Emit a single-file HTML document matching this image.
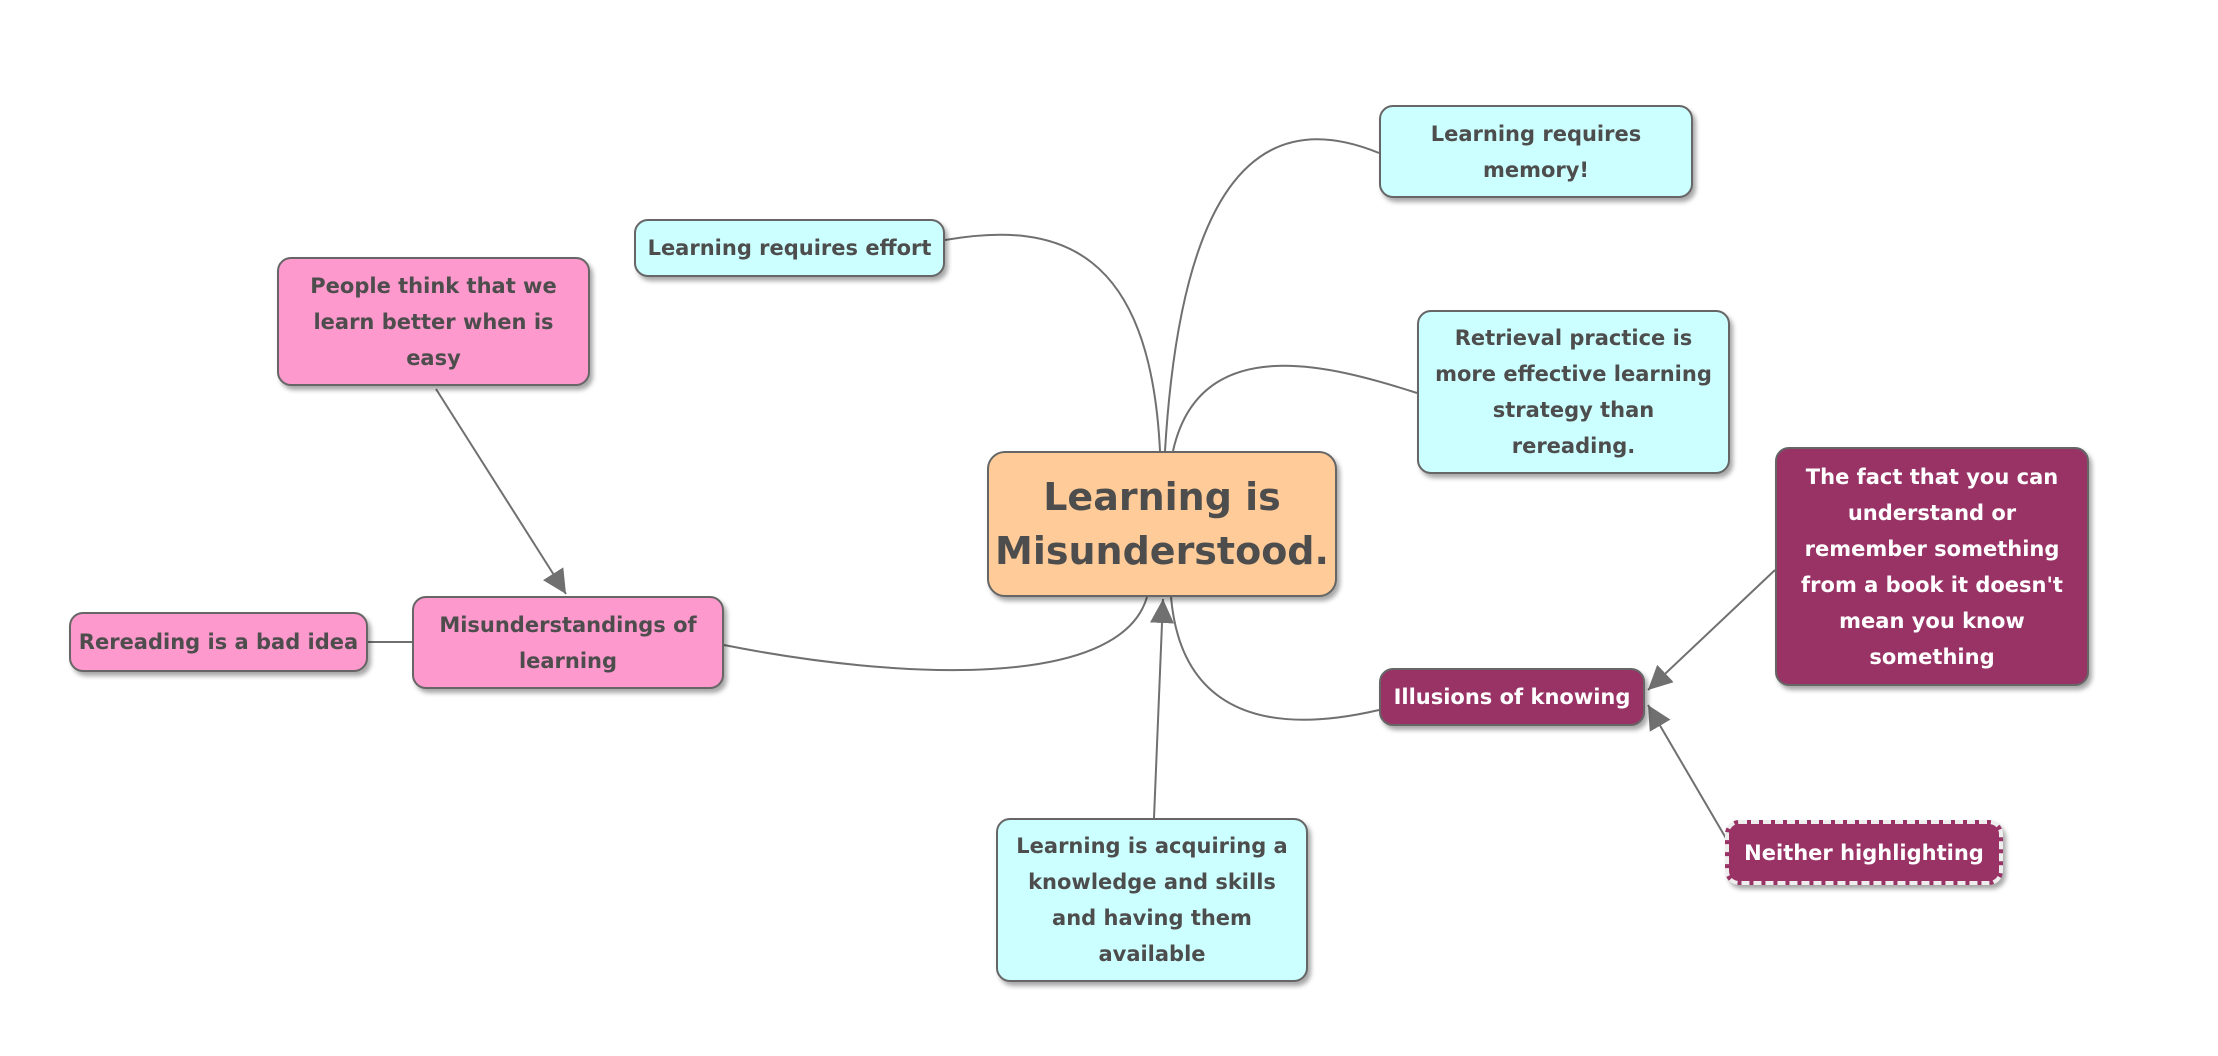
<!DOCTYPE html>
<html><head><meta charset="utf-8"><style>
body{margin:0;width:2218px;height:1056px;background:#fff;position:relative;overflow:hidden;font-family:"DejaVu Sans","Liberation Sans",sans-serif;}
.n{position:absolute;box-sizing:border-box;border:2px solid #666;border-radius:14px;display:flex;align-items:center;justify-content:center;text-align:center;font-weight:bold;font-size:21px;line-height:36px;color:#4d4d4d;box-shadow:3px 4px 5px rgba(0,0,0,0.35);}
.c{background:#ccffff}.p{background:#fd99cc}.m{background:#993366;color:#fff}
svg{position:absolute;left:0;top:0}
</style></head><body>
<svg width="2218" height="1056">
<defs>
<marker id="b" markerWidth="24" markerHeight="24" refX="24" refY="12" orient="auto" markerUnits="userSpaceOnUse" viewBox="0 0 24 24"><path d="M0,0 L24,12 L0,24z" fill="#707070"/></marker></defs>
<g fill="none" stroke="#707070" stroke-width="2">
<path d="M945,240 C1060,220 1150,250 1160,451"/>
<path d="M1379,153 C1250,100 1180,200 1165,451"/>
<path d="M1417,393 C1330,365 1200,330 1173,451"/>
<path d="M724,645 C900,680 1120,690 1147,597"/>
<path d="M1379,710 C1250,740 1180,700 1171,597"/>
<path d="M1154,818 L1163,599" marker-end="url(#b)"/>
<path d="M436,389 L566,594" marker-end="url(#b)"/>
<path d="M368,642 L412,642"/>
<path d="M1775,570 L1648,690" marker-end="url(#b)"/>
<path d="M1727,840 L1648,705" marker-end="url(#b)"/>
</g></svg>
<div class="n c" style="left:1379px;top:105px;width:314px;height:93px">Learning requires<br>memory!</div>
<div class="n c" style="left:634px;top:219px;width:311px;height:58px">Learning requires effort</div>
<div class="n p" style="left:277px;top:257px;width:313px;height:129px">People think that we<br>learn better when is<br>easy</div>
<div class="n c" style="left:1417px;top:310px;width:313px;height:164px">Retrieval practice is<br>more effective learning<br>strategy than<br>rereading.</div>
<div class="n m" style="left:1775px;top:447px;width:314px;height:239px">The fact that you can<br>understand or<br>remember something<br>from a book it doesn't<br>mean you know<br>something</div>
<div class="n" style="left:987px;top:451px;width:350px;height:146px;background:#ffcc99;font-size:38px;line-height:54px;border-radius:18px">Learning is<br>Misunderstood.</div>
<div class="n p" style="left:412px;top:596px;width:312px;height:93px">Misunderstandings of<br>learning</div>
<div class="n p" style="left:69px;top:612px;width:299px;height:60px">Rereading is a bad idea</div>
<div class="n m" style="left:1379px;top:668px;width:266px;height:58px">Illusions of knowing</div>
<div class="n m" style="left:1725px;top:820px;width:278px;height:65px;border:4px dashed #eee">Neither highlighting</div>
<div class="n c" style="left:996px;top:818px;width:312px;height:164px">Learning is acquiring a<br>knowledge and skills<br>and having them<br>available</div>
</body></html>
